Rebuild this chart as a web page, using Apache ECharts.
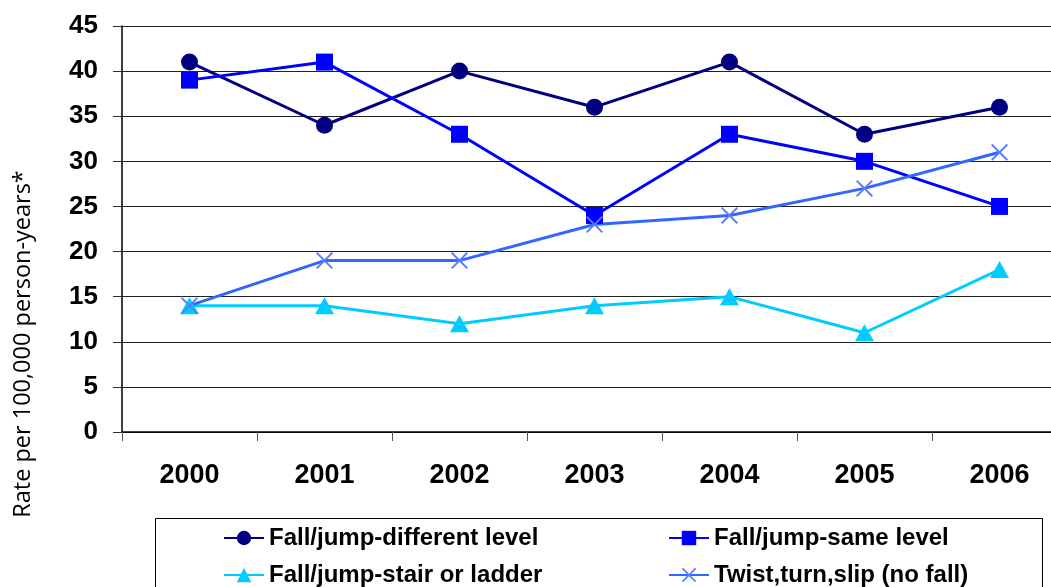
<!DOCTYPE html>
<html>
<head>
<meta charset="utf-8">
<style>
  html, body { margin: 0; padding: 0; background: #fff; }
  #chart { width: 1051px; height: 587px; }
</style>
<script src="https://cdn.jsdelivr.net/npm/echarts@6/dist/echarts.min.js"></script>
</head>
<body>
<div id="chart"></div>
<script>
// Years on the category axis
const years = ['2000', '2001', '2002', '2003', '2004', '2005', '2006'];

// Injury rates per 100,000 person-years, by mechanism
const fallDifferentLevel = [41, 34, 40, 36, 41, 33, 36];
const fallSameLevel      = [39, 41, 33, 24, 33, 30, 25];
const fallStairLadder    = [14, 14, 12, 14, 15, 11, 18];
const twistTurnSlip      = [14, 19, 19, 23, 24, 27, 31];

const seriesNames = [
  'Fall/jump-different level',
  'Fall/jump-same level',
  'Fall/jump-stair or ladder',
  'Twist,turn,slip (no fall)'
];

const yAxisTitle = 'Rate per 100,000 person-years*';

// thin "x" marker drawn as a filled outline
const crossSymbol = 'path://M0,0.8L0.8,0L5,4.2L9.2,0L10,0.8L5.8,5L10,9.2L9.2,10L5,5.8L0.8,10L0,9.2L4.2,5Z';

const chart = echarts.init(document.getElementById('chart'), null, { renderer: 'canvas' });

const fontBold = { fontFamily: 'Liberation Sans, Arial, sans-serif', fontWeight: 'bold', color: '#000' };
const legendText = Object.assign({ fontSize: 24, lineHeight: 24 }, fontBold);

// one legend entry per slot: two columns, two rows
const legendSlots = [
  { name: seriesNames[0], left: 218, top: 521 },
  { name: seriesNames[1], left: 663, top: 521 },
  { name: seriesNames[2], left: 218, top: 558 },
  { name: seriesNames[3], left: 663, top: 558 }
];

chart.setOption({
  animation: false,
  backgroundColor: '#fff',
  grid: { left: 122, top: 26, width: 945, height: 406, containLabel: false, outerBoundsMode: 'none' },
  xAxis: {
    type: 'category',
    data: years,
    boundaryGap: true,
    axisLine: { lineStyle: { color: '#000', width: 1.5 } },
    axisTick: { show: true, length: 9, lineStyle: { color: '#555' } },
    axisLabel: Object.assign({ fontSize: 27, margin: 30 }, fontBold),
    splitLine: { show: false }
  },
  yAxis: {
    type: 'value',
    min: 0,
    max: 45,
    interval: 5,
    axisLine: { show: true, lineStyle: { color: '#000', width: 1.5 } },
    axisTick: { show: true, length: 9, lineStyle: { color: '#333' } },
    axisLabel: Object.assign({ fontSize: 26, margin: 24 }, fontBold),
    splitLine: { show: true, lineStyle: { color: '#222', width: 1.2 } }
  },
  legend: legendSlots.map(s => ({
    data: [s.name],
    left: s.left,
    top: s.top,
    itemWidth: 40,
    itemHeight: 18,
    itemGap: 6,
    textStyle: legendText
  })),
  graphic: [
    {
      type: 'rect',
      shape: { x: 155.5, y: 518.5, width: 887, height: 100 },
      style: { fill: 'none', stroke: '#000', lineWidth: 1 },
      z: -1
    },
    {
      type: 'text',
      x: 23,
      y: 344,
      rotation: Math.PI / 2,
      style: {
        text: yAxisTitle,
        fill: '#000',
        font: '23.5px "Open Sans", sans-serif',
        textAlign: 'center',
        textVerticalAlign: 'middle'
      }
    }
  ],
  series: [
    {
      name: seriesNames[0],
      type: 'line',
      data: fallDifferentLevel,
      symbol: 'circle',
      symbolSize: 17,
      lineStyle: { color: '#000080', width: 3 },
      itemStyle: { color: '#000080' }
    },
    {
      name: seriesNames[1],
      type: 'line',
      data: fallSameLevel,
      symbol: 'rect',
      symbolSize: 17,
      lineStyle: { color: '#0000FF', width: 3 },
      itemStyle: { color: '#0000FF' }
    },
    {
      name: seriesNames[2],
      type: 'line',
      data: fallStairLadder,
      symbol: 'triangle',
      symbolSize: [19, 17],
      lineStyle: { color: '#00CCFF', width: 3 },
      itemStyle: { color: '#00CCFF' }
    },
    {
      name: seriesNames[3],
      type: 'line',
      data: twistTurnSlip,
      symbol: crossSymbol,
      symbolSize: 17,
      lineStyle: { color: '#3366FF', width: 3 },
      itemStyle: { color: '#5A7DFF' }
    }
  ]
});
</script>
</body>
</html>
